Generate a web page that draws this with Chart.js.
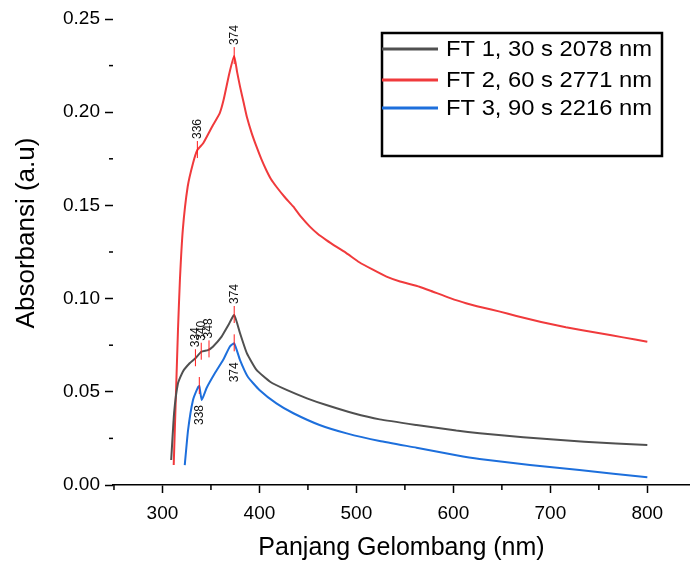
<!DOCTYPE html>
<html>
<head>
<meta charset="utf-8">
<script src="https://cdn.jsdelivr.net/npm/chart.js@4.4.1/dist/chart.umd.min.js"></script>
<style>
    body { margin: 0; background: #fff; }
    #wrap { width: 690px; height: 563px; }
</style>
</head>
<body>
<div id="wrap"><canvas id="chart" width="690" height="563"></canvas></div>
<script>
//=================================================
//Data
//=================================================
const ft1Wave = [309, 312, 316, 321, 328, 334, 340, 347, 352, 361, 368, 374, 380, 387, 397, 411, 428, 449, 469, 497, 524, 562, 603, 627, 672, 735, 800];
const ft1Abs = [0.0134, 0.0386, 0.0545, 0.0608, 0.0653, 0.068, 0.0715, 0.0724, 0.0742, 0.0796, 0.0858, 0.0912, 0.0814, 0.0707, 0.0617, 0.0554, 0.051, 0.0465, 0.0429, 0.0385, 0.0352, 0.0322, 0.0292, 0.0278, 0.0256, 0.0232, 0.0215];

const ft2Wave = [311.6, 316, 318, 321, 326, 331.5, 336, 342, 352, 359, 363, 369, 374, 377, 380, 384, 387, 392, 397, 402, 407, 412, 417.5, 426, 435, 443, 452, 460, 469, 480, 490, 503, 517, 531, 545, 565, 579, 596, 613, 630, 648, 665, 682, 699, 716, 733, 751, 775, 800];
const ft2Abs = [0.0107, 0.083, 0.11, 0.137, 0.16, 0.1726, 0.1797, 0.1833, 0.193, 0.1994, 0.2065, 0.2209, 0.2301, 0.2215, 0.2137, 0.2045, 0.1976, 0.1888, 0.1815, 0.1748, 0.169, 0.164, 0.16, 0.1545, 0.1493, 0.1438, 0.1386, 0.1348, 0.1314, 0.1276, 0.1243, 0.1195, 0.1155, 0.1118, 0.1092, 0.1064, 0.1037, 0.1004, 0.0975, 0.0952, 0.093, 0.0907, 0.0885, 0.0865, 0.0846, 0.083, 0.0814, 0.0792, 0.0769];

const ft3Wave = [323, 326.4, 331.5, 336.7, 338, 340.5, 345.4, 354, 362.5, 369.4, 374, 380, 388, 400, 417.5, 435, 462, 490, 524, 562, 603, 627, 679, 730, 800];
const ft3Abs = [0.0107, 0.0295, 0.0456, 0.0525, 0.0531, 0.0456, 0.0519, 0.0599, 0.067, 0.0742, 0.076, 0.067, 0.0581, 0.051, 0.0438, 0.0385, 0.0322, 0.0277, 0.0236, 0.02, 0.016, 0.014, 0.0107, 0.008, 0.0041];

const seriesNames = ["FT 1, 30 s 2078 nm", "FT 2, 60 s 2771 nm", "FT 3, 90 s 2216 nm"];
const seriesColors = ["#505050", "#f03a3c", "#1d6fdc"];

// peak markers (wavelength) per series
const ft1Peaks = [334, 340, 348, 374];
const ft2Peaks = [336, 374];
const ft3Peaks = [338, 374];

const xMajorTicks = [300, 400, 500, 600, 700, 800];
const xMinorTicks = [250, 350, 450, 550, 650, 750];
const yMajorTicks = [0, 0.05, 0.1, 0.15, 0.2, 0.25];
const yMinorTicks = [0.025, 0.075, 0.125, 0.175, 0.225];

const toPoints = (wave, abs) => wave.map((w, i) => ({ x: w, y: abs[i] }));

// value on a curve at a wavelength (for peak markers)
const valueAt = (wave, abs, w) => {
    for (let i = 0; i < wave.length - 1; i++) {
        if (w >= wave[i] && w <= wave[i + 1]) {
            const t = (w - wave[i]) / (wave[i + 1] - wave[i]);
            return abs[i] + t * (abs[i + 1] - abs[i]);
        }
    }
    return abs[abs.length - 1];
};

const fontFamily = "'Liberation Sans', Arial, sans-serif";

//=================================================
//Extra drawing: minor ticks, peak labels, legend, y title
//=================================================
const extrasPlugin = {
    id: "extras",
    afterDraw(chart) {
        const ctx = chart.ctx;
        const xs = chart.scales.x;
        const ys = chart.scales.y;
        const area = chart.chartArea;

        ctx.save();
        ctx.strokeStyle = "#000";
        ctx.lineWidth = 1.5;
        xMinorTicks.forEach((v) => {
            const px = xs.getPixelForValue(v);
            ctx.beginPath();
            ctx.moveTo(px, area.bottom);
            ctx.lineTo(px, area.bottom + 5);
            ctx.stroke();
        });
        yMinorTicks.forEach((v) => {
            const py = ys.getPixelForValue(v);
            ctx.beginPath();
            ctx.moveTo(area.left - 4, py);
            ctx.lineTo(area.left, py);
            ctx.stroke();
        });

        // y axis title
        ctx.save();
        ctx.fillStyle = "#000";
        ctx.font = "26px " + fontFamily;
        ctx.textAlign = "center";
        ctx.textBaseline = "middle";
        ctx.translate(27, 233);
        ctx.rotate(-Math.PI / 2);
        ctx.fillText("Absorbansi (a.u)", 0, 0);
        ctx.restore();

        // peaks
        const peakSets = [
            { wave: ft1Wave, abs: ft1Abs, peaks: ft1Peaks, below: false },
            { wave: ft2Wave, abs: ft2Abs, peaks: ft2Peaks, below: false },
            { wave: ft3Wave, abs: ft3Abs, peaks: ft3Peaks, below: true },
        ];
        ctx.font = "12px " + fontFamily;
        ctx.textBaseline = "middle";
        peakSets.forEach((set) => {
            set.peaks.forEach((p) => {
                const px = xs.getPixelForValue(p);
                const py = ys.getPixelForValue(valueAt(set.wave, set.abs, p));
                ctx.strokeStyle = "#ff1a1a";
                ctx.lineWidth = 1;
                ctx.beginPath();
                ctx.moveTo(px, py - 9);
                ctx.lineTo(px, py + 8);
                ctx.stroke();
                ctx.save();
                ctx.fillStyle = "#111";
                if (set.below) {
                    ctx.translate(px, py + 19);
                    ctx.rotate(-Math.PI / 2);
                    ctx.textAlign = "right";
                } else {
                    ctx.translate(px, py - 11);
                    ctx.rotate(-Math.PI / 2);
                    ctx.textAlign = "left";
                }
                ctx.fillText(String(p), 0, 0);
                ctx.restore();
            });
        });

        // legend box
        ctx.strokeStyle = "#000";
        ctx.lineWidth = 2.5;
        ctx.strokeRect(382, 33, 280, 123);
        const rows = [49, 80, 108];
        ctx.font = "22px " + fontFamily;
        ctx.textAlign = "left";
        ctx.textBaseline = "middle";
        seriesNames.forEach((name, i) => {
            ctx.strokeStyle = seriesColors[i];
            ctx.lineWidth = 3;
            ctx.beginPath();
            ctx.moveTo(382, rows[i]);
            ctx.lineTo(438, rows[i]);
            ctx.stroke();
            ctx.save();
            ctx.fillStyle = "#000";
            ctx.translate(446, rows[i] + 1);
            ctx.scale(1.08, 1);
            ctx.fillText(name, 0, 0);
            ctx.restore();
        });
        ctx.restore();
    },
};

//=================================================
//Chart.js
//=================================================
const data = {
    datasets: [
        { label: seriesNames[0], data: toPoints(ft1Wave, ft1Abs), borderColor: seriesColors[0] },
        { label: seriesNames[1], data: toPoints(ft2Wave, ft2Abs), borderColor: seriesColors[1] },
        { label: seriesNames[2], data: toPoints(ft3Wave, ft3Abs), borderColor: seriesColors[2] },
    ].map((d) => ({ ...d, borderWidth: 2, pointRadius: 0, tension: 0.15, fill: false })),
};

const config = {
    type: "line",
    data: data,
    options: {
        responsive: false,
        animation: false,
        layout: {
            padding: { top: 19, right: 0, bottom: 0, left: 0 },
        },
        scales: {
            x: {
                type: "linear",
                min: 249,
                max: 844,
                afterBuildTicks: (scale) => {
                    scale.ticks = xMajorTicks.map((v) => ({ value: v }));
                },
                afterFit: (scale) => {
                    scale.height = 78;
                },
                grid: {
                    drawOnChartArea: false,
                    tickLength: 8,
                    tickWidth: 1.5,
                    tickColor: "#000",
                },
                border: { display: true, color: "#000", width: 1.5 },
                ticks: {
                    color: "#000",
                    padding: 9,
                    maxRotation: 0,
                    font: { size: 19, family: fontFamily },
                },
                title: {
                    display: true,
                    text: "Panjang Gelombang (nm)",
                    color: "#000",
                    font: { size: 25, family: fontFamily },
                    padding: { top: 1, bottom: 0 },
                },
            },
            y: {
                min: 0,
                max: 0.25,
                afterBuildTicks: (scale) => {
                    scale.ticks = yMajorTicks.map((v) => ({ value: v }));
                },
                afterFit: (scale) => {
                    scale.width = 113;
                },
                grid: {
                    drawOnChartArea: false,
                    tickLength: 8,
                    tickWidth: 1.5,
                    tickColor: "#000",
                },
                border: { display: false },
                ticks: {
                    color: "#000",
                    padding: 5,
                    font: { size: 19, family: fontFamily },
                    callback: (v) => Number(v).toFixed(2),
                },
            },
        },
        plugins: {
            legend: { display: false },
            tooltip: { enabled: false },
        },
    },
    plugins: [extrasPlugin],
};

new Chart(document.getElementById("chart"), config);
</script>
</body>
</html>
